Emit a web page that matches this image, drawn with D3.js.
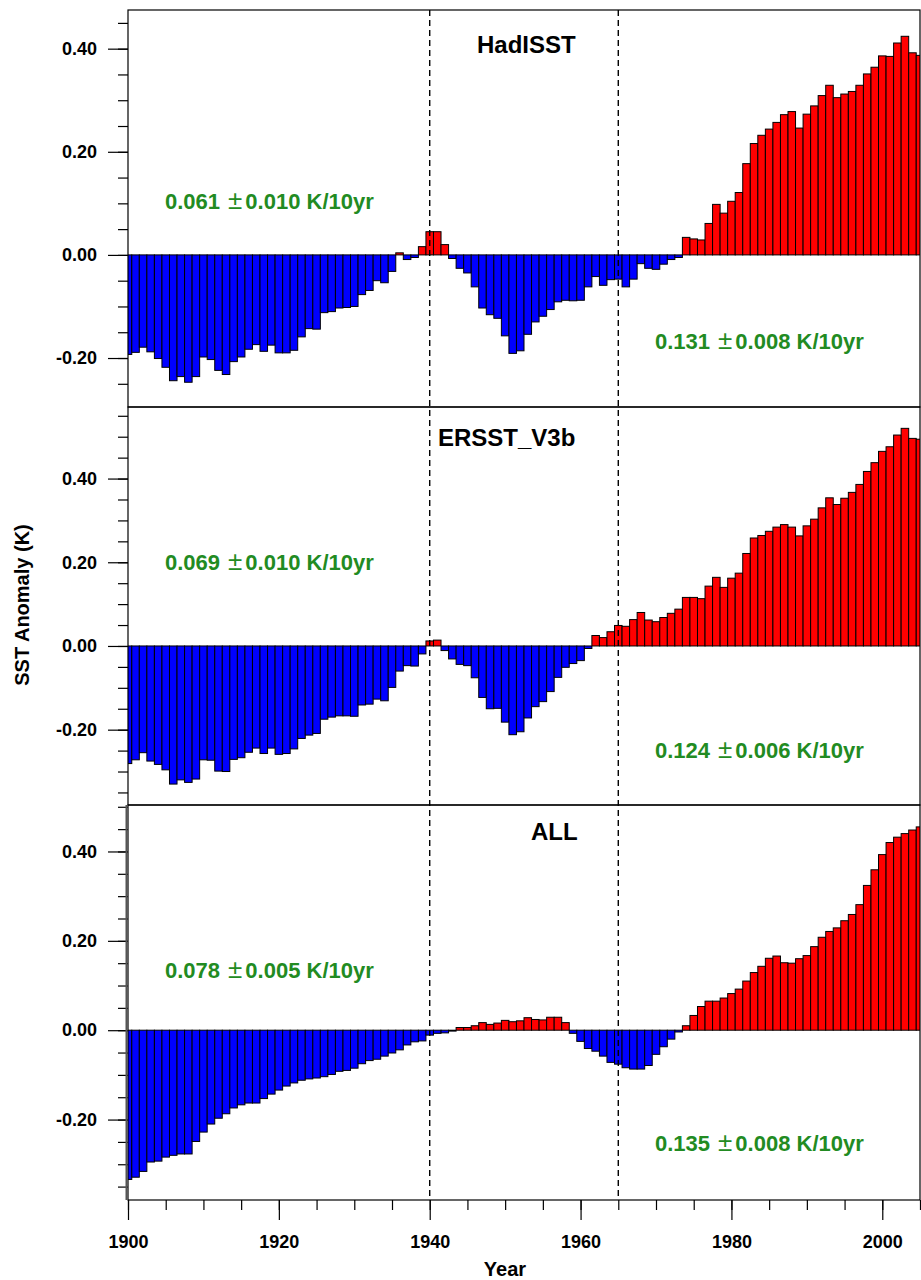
<!DOCTYPE html>
<html>
<head>
<meta charset="utf-8">
<script src="https://cdn.jsdelivr.net/npm/d3@7"></script>
<style>
  html, body { margin: 0; padding: 0; background: #fff; }
  svg { display: block; }
  text { font-family: "Liberation Sans", Arial, Helvetica, sans-serif; font-weight: bold; }
</style>
</head>
<body>
<svg id="chart" width="921" height="1280"></svg>
<script>
// Annual SST anomalies (K), 1900-2005, three data sets
const years = d3.range(1900, 2006);

const hadisst = [
  -0.193, -0.189, -0.179, -0.188, -0.201, -0.218, -0.244, -0.236, -0.247, -0.236,
  -0.198, -0.203, -0.224, -0.232, -0.207, -0.198, -0.183, -0.174, -0.187, -0.175,
  -0.190, -0.190, -0.185, -0.159, -0.143, -0.144, -0.112, -0.110, -0.103, -0.102,
  -0.100, -0.077, -0.069, -0.050, -0.054, -0.032,  0.004, -0.009, -0.005,  0.016,
   0.045,  0.045,  0.020, -0.007, -0.026, -0.035, -0.062, -0.103, -0.116, -0.123,
  -0.157, -0.191, -0.186, -0.154, -0.130, -0.119, -0.106, -0.091, -0.088, -0.089,
  -0.088, -0.062, -0.042, -0.059, -0.048, -0.047, -0.062, -0.047, -0.017, -0.026,
  -0.028, -0.018, -0.009, -0.005,  0.034,  0.031,  0.029,  0.061,  0.098,  0.081,
   0.104,  0.121,  0.177,  0.216,  0.232,  0.244,  0.257,  0.272,  0.278,  0.246,
   0.273,  0.289,  0.309,  0.329,  0.305,  0.312,  0.317,  0.329,  0.351,  0.364,
   0.386,  0.385,  0.411,  0.424,  0.392,  0.387
];

const ersst = [
  -0.281, -0.272, -0.255, -0.275, -0.283, -0.296, -0.330, -0.320, -0.326, -0.318,
  -0.272, -0.273, -0.299, -0.300, -0.271, -0.267, -0.254, -0.244, -0.257, -0.244,
  -0.259, -0.257, -0.246, -0.221, -0.213, -0.209, -0.175, -0.170, -0.167, -0.167,
  -0.168, -0.141, -0.139, -0.127, -0.131, -0.099, -0.060, -0.047, -0.048, -0.019,
   0.012,  0.014, -0.011, -0.031, -0.044, -0.047, -0.076, -0.123, -0.150, -0.149,
  -0.182, -0.212, -0.205, -0.172, -0.145, -0.133, -0.109, -0.075, -0.051, -0.042,
  -0.035, -0.006,  0.025,  0.020,  0.034,  0.049,  0.047,  0.063,  0.080,  0.062,
   0.058,  0.068,  0.078,  0.088,  0.116,  0.116,  0.113,  0.143,  0.164,  0.140,
   0.162,  0.174,  0.221,  0.258,  0.264,  0.274,  0.284,  0.290,  0.284,  0.263,
   0.287,  0.303,  0.330,  0.354,  0.338,  0.353,  0.367,  0.386,  0.417,  0.438,
   0.465,  0.476,  0.504,  0.520,  0.496,  0.494
];

const allSets = [
  -0.334, -0.329, -0.316, -0.295, -0.293, -0.284, -0.280, -0.277, -0.277, -0.249,
  -0.228, -0.210, -0.197, -0.187, -0.174, -0.167, -0.163, -0.163, -0.153, -0.143,
  -0.134, -0.125, -0.118, -0.112, -0.109, -0.107, -0.104, -0.099, -0.092, -0.090,
  -0.085, -0.075, -0.068, -0.065, -0.058, -0.051, -0.044, -0.033, -0.026, -0.024,
  -0.011, -0.007, -0.006, -0.002,  0.006,  0.006,  0.010,  0.017,  0.013,  0.016,
   0.022,  0.019,  0.021,  0.028,  0.024,  0.023,  0.029,  0.029,  0.017, -0.007,
  -0.025, -0.041, -0.047, -0.058, -0.072, -0.076, -0.084, -0.087, -0.087, -0.079,
  -0.054, -0.037, -0.020, -0.004,  0.010,  0.033,  0.053,  0.065,  0.065,  0.072,
   0.082,  0.092,  0.110,  0.129,  0.143,  0.161,  0.166,  0.151,  0.150,  0.160,
   0.167,  0.187,  0.208,  0.221,  0.229,  0.245,  0.259,  0.281,  0.324,  0.359,
   0.393,  0.420,  0.432,  0.440,  0.448,  0.455
];

const panelNames = ["HadISST", "ERSST_V3b", "ALL"];
const earlyTrend = ["0.061", "0.069", "0.078"];
const earlyError = ["0.010", "0.010", "0.005"];
const lateTrend  = ["0.131", "0.124", "0.135"];
const lateError  = ["0.008", "0.006", "0.008"];
const trendUnit = "K/10yr";

const yMajorTicks = [-0.2, 0.0, 0.2, 0.4];
const xMajorTicks = [1900, 1920, 1940, 1960, 1980, 2000];
const periodBreaks = [1940, 1965];

// ---- layout ----
const svg = d3.select("#chart");
const left = 128, right = 920;
const panels = [
  { data: hadisst, top: 10,  bottom: 407,  domain: [-0.295, 0.475], titleX: 477, titleY: 53,  eY: 209, lY: 349 },
  { data: ersst,   top: 407, bottom: 805,  domain: [-0.380, 0.571], titleX: 438, titleY: 446, eY: 570, lY: 758 },
  { data: allSets, top: 805, bottom: 1200, domain: [-0.380, 0.504], titleX: 531, titleY: 840, eY: 978, lY: 1151 }
];

svg.append("rect").attr("width", 921).attr("height", 1280).attr("fill", "#fff");

const x = d3.scaleLinear().domain([1900, 2005]).range([left, right]);
const green = "#228B22";

panels.forEach((p, i) => {
  const y = d3.scaleLinear().domain(p.domain).range([p.bottom, p.top]);
  const clipId = "clip" + i;
  svg.append("clipPath").attr("id", clipId)
    .append("rect")
    .attr("x", left).attr("y", p.top)
    .attr("width", right - left).attr("height", p.bottom - p.top);

  const g = svg.append("g");

  // bars, one per year, centred on the year
  g.append("g").attr("clip-path", `url(#${clipId})`)
    .selectAll("rect")
    .data(years.map((yr, k) => ({ yr, v: p.data[k] })))
    .join("rect")
    .attr("x", d => x(d.yr - 0.5))
    .attr("width", d => x(d.yr + 0.5) - x(d.yr - 0.5))
    .attr("y", d => y(Math.max(0, d.v)))
    .attr("height", d => Math.abs(y(d.v) - y(0)))
    .attr("fill", d => d.v >= 0 ? "#ff0000" : "#0000ff")
    .attr("stroke", "#000")
    .attr("stroke-width", 1);

  // y axis: minor ticks every 0.05, labelled major ticks every 0.2
  const lo = Math.ceil(p.domain[0] / 0.05 - 1e-6), hi = Math.floor(p.domain[1] / 0.05 + 1e-6);
  const minor = d3.range(lo, hi + 1).map(k => +(k * 0.05).toFixed(2));
  g.append("g")
    .attr("transform", `translate(${left},0)`)
    .call(d3.axisLeft(y).tickValues(minor).tickSize(10).tickSizeOuter(0).tickFormat(""))
    .call(a => a.select(".domain").remove())
    .call(a => a.selectAll("line").attr("stroke", "#000").attr("stroke-width", 1.2));
  g.append("g")
    .attr("transform", `translate(${left},0)`)
    .call(d3.axisLeft(y).tickValues(yMajorTicks).tickSize(20).tickSizeOuter(0).tickPadding(11)
      .tickFormat(v => v.toFixed(2)))
    .call(a => a.select(".domain").remove())
    .call(a => a.selectAll("line").attr("stroke", "#000").attr("stroke-width", 1.2))
    .call(a => a.selectAll("text")
      .attr("font-size", 18).attr("fill", "#000")
      .attr("font-family", "Liberation Sans, Arial, sans-serif").attr("font-weight", "bold"));

  // frame
  g.append("rect")
    .attr("x", left).attr("y", p.top)
    .attr("width", right - left).attr("height", p.bottom - p.top)
    .attr("fill", "none").attr("stroke", "#000").attr("stroke-width", 1.2);

  // panel name
  g.append("text")
    .attr("x", p.titleX).attr("y", p.titleY)
    .attr("font-size", 24).attr("fill", "#000")
    .text(panelNames[i]);

  // trend annotations
  const trend = (tx, ty, val, err) => {
    const t = g.append("text").attr("x", tx).attr("y", ty)
      .attr("font-size", 22).attr("fill", green);
    t.append("tspan").text(val);
    t.append("tspan").attr("dx", 8).attr("font-weight", "normal").attr("font-size", 26).text("\u00B1");
    t.append("tspan").attr("dx", 3).text(err + " " + trendUnit);
  };
  trend(165, p.eY, earlyTrend[i], earlyError[i]);
  trend(655, p.lY, lateTrend[i], lateError[i]);
});

// doubled left edge on the bottom panel
svg.append("line")
  .attr("x1", left - 1.5).attr("x2", left - 1.5)
  .attr("y1", panels[2].top).attr("y2", panels[2].bottom)
  .attr("stroke", "#555").attr("stroke-width", 2);

// dashed period separators across all panels
svg.append("g").selectAll("line")
  .data(periodBreaks)
  .join("line")
  .attr("x1", d => x(d)).attr("x2", d => x(d))
  .attr("y1", panels[0].top).attr("y2", panels[2].bottom)
  .attr("stroke", "#000").attr("stroke-width", 1.4)
  .attr("stroke-dasharray", "6,4");

// x axis along the bottom panel
const bottomY = panels[2].bottom;
svg.append("g")
  .attr("transform", `translate(0,${bottomY})`)
  .call(d3.axisBottom(x).tickValues(d3.range(1900, 2006, 5)).tickSize(10).tickSizeOuter(0).tickFormat(""))
  .call(a => a.select(".domain").remove())
  .call(a => a.selectAll("line").attr("stroke", "#000").attr("stroke-width", 1.2));
svg.append("g")
  .attr("transform", `translate(0,${bottomY})`)
  .call(d3.axisBottom(x).tickValues(xMajorTicks).tickSize(20).tickSizeOuter(0).tickPadding(15)
    .tickFormat(d3.format("d")))
  .call(a => a.select(".domain").remove())
  .call(a => a.selectAll("line").attr("stroke", "#000").attr("stroke-width", 1.2))
  .call(a => a.selectAll("text")
    .attr("font-size", 18).attr("fill", "#000")
    .attr("font-family", "Liberation Sans, Arial, sans-serif").attr("font-weight", "bold"));

// axis titles
svg.append("text")
  .attr("x", 505).attr("y", 1276)
  .attr("text-anchor", "middle").attr("font-size", 20).attr("fill", "#000")
  .text("Year");
svg.append("text")
  .attr("transform", "translate(29,605) rotate(-90)")
  .attr("text-anchor", "middle").attr("font-size", 20).attr("fill", "#000")
  .text("SST Anomaly (K)");
</script>
</body>
</html>
